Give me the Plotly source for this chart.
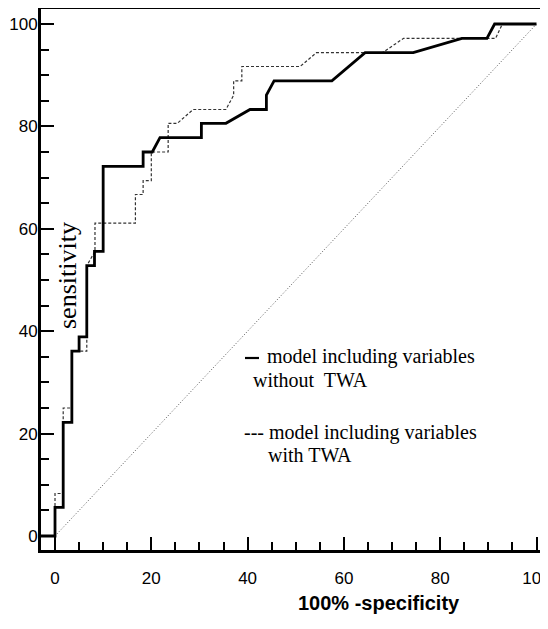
import plotly.graph_objects as go

# ROC curve: model including variables without TWA (solid)
fpr_without = [-3.1, 0, 0, 1.7, 1.7, 3.5, 3.5, 5.0, 5.0, 6.6, 6.6, 8.2, 8.2, 10.0, 10.0,
               18.3, 18.3, 20.2, 21.8, 30.4, 30.4, 35.5, 40.5, 43.9, 43.9, 45.5,
               57.5, 64.4, 74.4, 84.5, 89.7, 91.3, 100]
tpr_without = [0, 0, 5.6, 5.6, 22.2, 22.2, 36.1, 36.1, 38.9, 38.9, 52.8, 52.8, 55.6, 55.6, 72.2,
               72.2, 75.0, 75.0, 77.8, 77.8, 80.6, 80.6, 83.3, 83.3, 86.1, 88.9,
               88.9, 94.4, 94.4, 97.2, 97.2, 100, 100]

# ROC curve: model including variables with TWA (dashed)
fpr_with = [-3.1, 0, 0, 1.7, 1.7, 3.5, 3.5, 6.6, 6.6, 8.3, 8.3, 16.7, 16.7, 18.3, 18.3,
            20.0, 20.0, 23.5, 23.5, 25.4, 28.7, 35.5, 37.1, 37.1, 38.8, 38.8, 50.9,
            54.3, 68.0, 72.4, 91.5, 92.9, 100]
tpr_with = [0, 0, 8.3, 8.3, 25.0, 25.0, 36.1, 36.1, 52.8, 55.6, 61.1, 61.1, 66.7, 66.7, 69.4,
            69.4, 75.0, 75.0, 80.6, 80.6, 83.3, 83.3, 86.1, 88.9, 88.9, 91.7, 91.7,
            94.4, 94.4, 97.2, 97.2, 100, 100]

# reference (chance) line
diag_x = [0, 100]
diag_y = [0, 100]

tick_vals = [0, 20, 40, 60, 80, 100]
tick_text = ["0", "20", "40", "60", "80", "100"]

# The page body has an 8px default margin, so the figure is sized/positioned to compensate.
OFF = 8
W, H = 548 - OFF, 629 - OFF
ML, MR, MT, MB = 33, 6, 1, 79
PW, PH = W - ML - MR, H - MT - MB


def px(xp):
    return (xp - OFF - ML) / PW


def py(yp):
    return (H - MB - (yp - OFF)) / PH


fig = go.Figure()
fig.add_trace(go.Scatter(x=diag_x, y=diag_y, mode="lines",
                         line=dict(color="#555555", width=1, dash="1px,2px"),
                         hoverinfo="skip"))
fig.add_trace(go.Scatter(x=fpr_with, y=tpr_with, mode="lines",
                         line=dict(color="#333333", width=1.2, dash="3px,2px"),
                         name="model including variables with TWA"))
fig.add_trace(go.Scatter(x=fpr_without, y=tpr_without, mode="lines",
                         line=dict(color="black", width=2.8),
                         name="model including variables without TWA"))

axis_font = dict(family="Liberation Sans, Arial, sans-serif", size=17, color="black")

fig.update_xaxes(range=[-2.91, 101.14], tickvals=tick_vals, ticktext=tick_text,
                 ticks="inside", ticklen=13, tickwidth=2, tickcolor="black",
                 minor=dict(ticks="inside", dtick=5, ticklen=8, tickwidth=1.5, tickcolor="black"),
                 showline=True, linewidth=3, linecolor="black", mirror=True,
                 showgrid=False, zeroline=False, tickfont=axis_font,
                 ticklabelstandoff=11, automargin=False, ticklabeloverflow="allow")
fig.update_yaxes(range=[-2.73, 102.93], tickvals=tick_vals, ticktext=tick_text,
                 ticks="inside", ticklen=13, tickwidth=2, tickcolor="black",
                 minor=dict(ticks="inside", dtick=5, ticklen=8, tickwidth=1.5, tickcolor="black"),
                 showline=True, linewidth=3, linecolor="black",
                 showgrid=False, zeroline=False, tickfont=axis_font,
                 ticklabelstandoff=-3, automargin=False, ticklabeloverflow="allow")

serif = dict(family="Liberation Serif, Times New Roman, serif", size=20, color="black")
annotations = [
    dict(text="sensitivity", x=px(67), y=py(276), textangle=-90,
         font=dict(family="Liberation Serif, Times New Roman, serif", size=26, color="black")),
    dict(text="model including variables", x=px(265), y=py(357), xanchor="left", font=serif),
    dict(text="without&nbsp; TWA", x=px(251), y=py(380), xanchor="left", font=serif),
    dict(text="--- model including variables", x=px(242), y=py(432), xanchor="left", font=serif),
    dict(text="with TWA", x=px(266), y=py(455), xanchor="left", font=serif),
    dict(text="<b>100% -specificity</b>", x=px(379), y=py(603),
         font=dict(family="Liberation Sans, Arial, sans-serif", size=20, color="black")),
]
for a in annotations:
    a.update(xref="paper", yref="paper", showarrow=False, yanchor="middle")
    a.setdefault("xanchor", "center")
fig.update_layout(annotations=annotations)

# legend key dash for the solid curve
fig.add_shape(type="line", xref="paper", yref="paper", x0=px(245), x1=px(259),
              y0=py(358), y1=py(358), line=dict(color="black", width=2.2))

# thin grey right border of the frame
fig.add_shape(type="line", xref="paper", yref="paper", x0=1, x1=1, y0=0, y1=1,
              line=dict(color="#888888", width=1.5))

fig.update_layout(width=W, height=H, margin=dict(l=ML, r=MR, t=MT, b=MB),
                  plot_bgcolor="white", paper_bgcolor="white", showlegend=False)

fig.write_html("out.html")
